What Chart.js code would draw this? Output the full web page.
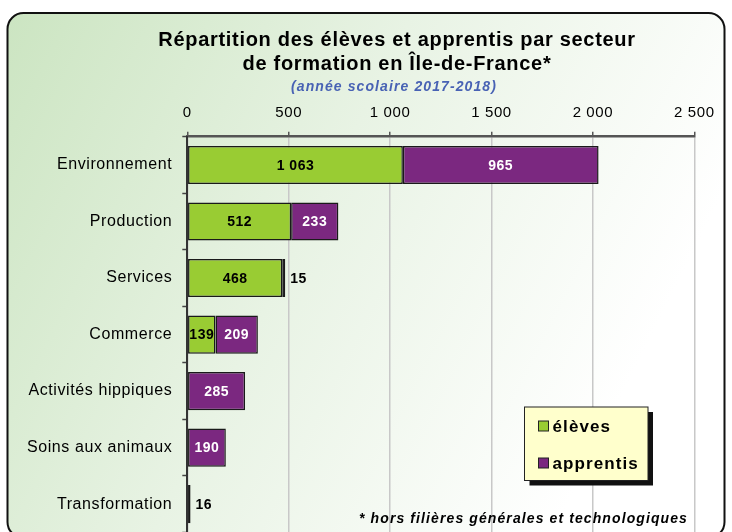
<!DOCTYPE html>
<html>
<head>
<meta charset="utf-8">
<script src="https://cdn.jsdelivr.net/npm/chart.js@4.4.1/dist/chart.umd.min.js"></script>
<style>
  html, body { margin: 0; padding: 0; overflow: hidden; background: #fff; }
  #wrap { width: 732px; height: 532px; overflow: hidden; }
</style>
</head>
<body>
<div id="wrap"><canvas id="c" width="732" height="552"></canvas></div>
<script>
const categories = ['Environnement', 'Production', 'Services', 'Commerce', 'Activités hippiques', 'Soins aux animaux', 'Transformation'];
const eleves = [1063, 512, 468, 139, null, null, null];
const apprentis = [965, 233, 15, 209, 285, 190, 16];
const seriesNames = ['élèves', 'apprentis'];
const xMin = 0, xMax = 2500, xStep = 500;
const titleLines = ['Répartition des élèves et apprentis par secteur', 'de formation en Île-de-France*'];
const subtitle = '(année scolaire 2017-2018)';
const footnote = '* hors filières générales et technologiques';

const GREEN = '#99cc33';
const PURPLE = '#7b2880';
const FONT = '"Liberation Sans", Arial, sans-serif';

function fmt(v) {
  return String(v).replace(/\B(?=(\d{3})+(?!\d))/g, ' ');
}

function text(ctx, t, x, y, font, color, align, spacing) {
  ctx.save();
  ctx.font = font;
  ctx.fillStyle = color;
  ctx.textAlign = align;
  ctx.textBaseline = 'middle';
  ctx.letterSpacing = spacing + 'px';
  ctx.fillText(t, x, y);
  ctx.restore();
}

const bgPlugin = {
  id: 'bg',
  beforeDraw(chart) {
    const ctx = chart.ctx;
    ctx.save();
    ctx.fillStyle = '#fff';
    ctx.fillRect(0, 0, chart.width, chart.height);
    const g = ctx.createLinearGradient(0, 40, 640, 360);
    g.addColorStop(0, '#cce5c2');
    g.addColorStop(0.5, '#e8f3e4');
    g.addColorStop(1, '#ffffff');
    ctx.beginPath();
    ctx.roundRect(7.5, 13, 717, 525, 16);
    ctx.fillStyle = g;
    ctx.fill();
    ctx.restore();
    ctx.letterSpacing = '0.6px';
  },
  afterDraw(chart) {
    const ctx = chart.ctx;
    ctx.save();
    // frame
    ctx.beginPath();
    ctx.roundRect(7.5, 13, 717, 525, 16);
    ctx.lineWidth = 2;
    ctx.strokeStyle = '#111';
    ctx.stroke();
    // title
    text(ctx, titleLines[0], 397, 40, 'bold 20px ' + FONT, '#000', 'center', 0.7);
    text(ctx, titleLines[1], 397, 64, 'bold 20px ' + FONT, '#000', 'center', 0.7);
    text(ctx, subtitle, 394, 87, 'italic bold 14px ' + FONT, '#4862b4', 'center', 1.1);
    // legend
    const lx = 524.5, ly = 407, lw = 123.5, lh = 73.5;
    ctx.fillStyle = '#111';
    ctx.fillRect(lx + 5, ly + 5, lw, lh);
    ctx.fillStyle = '#ffffcc';
    ctx.fillRect(lx, ly, lw, lh);
    ctx.lineWidth = 1;
    ctx.strokeStyle = '#222';
    ctx.strokeRect(lx, ly, lw, lh);
    const cols = [GREEN, PURPLE];
    const ys = [426, 463];
    for (let i = 0; i < 2; i++) {
      ctx.fillStyle = cols[i];
      ctx.fillRect(538.5, ys[i] - 5, 10, 10);
      ctx.strokeStyle = '#222';
      ctx.strokeRect(538.5, ys[i] - 5, 10, 10);
      text(ctx, seriesNames[i], 552.5, ys[i] + 1, 'bold 17px ' + FONT, '#000', 'left', 1.1);
    }
    // footnote
    text(ctx, footnote, 688, 519, 'italic bold 14px ' + FONT, '#000', 'right', 1.1);
    ctx.restore();
  }
};

const labelPlugin = {
  id: 'vals',
  afterDatasetsDraw(chart) {
    const ctx = chart.ctx;
    ctx.save();
    ctx.font = 'bold 14px ' + FONT;
    ctx.letterSpacing = '0.5px';
    chart.data.datasets.forEach((ds, di) => {
      const meta = chart.getDatasetMeta(di);
      meta.data.forEach((el, i) => {
        const v = ds.data[i];
        if (v === null || v === undefined) return;
        const t = fmt(v);
        const tw = ctx.measureText(t).width;
        const left = Math.min(el.x, el.base), right = Math.max(el.x, el.base);
        if (right - left < tw) {
          text(ctx, t, right + 5, el.y + 1, 'bold 14px ' + FONT, '#000', 'left', 0.5);
        } else {
          text(ctx, t, (left + right) / 2, el.y + 1, 'bold 14px ' + FONT, di === 0 ? '#000' : '#fff', 'center', 0.5);
        }
      });
    });
    ctx.restore();
  }
};

new Chart(document.getElementById('c'), {
  type: 'bar',
  data: {
    labels: categories,
    datasets: [
      { label: seriesNames[0], data: eleves, backgroundColor: GREEN, borderColor: '#1a1a1a', borderWidth: 1.5, borderSkipped: false, barPercentage: 0.675, categoryPercentage: 1 },
      { label: seriesNames[1], data: apprentis, backgroundColor: PURPLE, borderColor: '#1a1a1a', borderWidth: 1.5, borderSkipped: false, barPercentage: 0.675, categoryPercentage: 1 }
    ]
  },
  options: {
    indexAxis: 'y',
    responsive: false,
    animation: false,
    devicePixelRatio: 1,
    layout: { padding: { left: 0, right: 37.7, top: 96, bottom: 0 } },
    plugins: { legend: { display: false }, tooltip: { enabled: false }, title: { display: false } },
    scales: {
      x: {
        position: 'top',
        stacked: true,
        min: xMin, max: xMax,
        ticks: { stepSize: xStep, callback: v => fmt(v), color: '#000', font: { family: FONT, size: 15 }, padding: 10, maxRotation: 0 },
        grid: { color: '#c8c8c8', lineWidth: 1.5, tickLength: 5, tickColor: '#555', tickWidth: 1.5 },
        border: { color: '#555', width: 2.5 },
        afterFit: s => { s.height = 40.7; }
      },
      y: {
        stacked: true,
        ticks: { color: '#000', font: { family: FONT, size: 16 }, padding: 10 },
        grid: { offset: true, drawOnChartArea: false, tickLength: 5, tickColor: '#444', tickWidth: 1.5 },
        border: { color: '#333', width: 2 },
        afterFit: s => { s.width = 187.3; }
      }
    }
  },
  plugins: [bgPlugin, labelPlugin]
});
</script>
</body>
</html>
